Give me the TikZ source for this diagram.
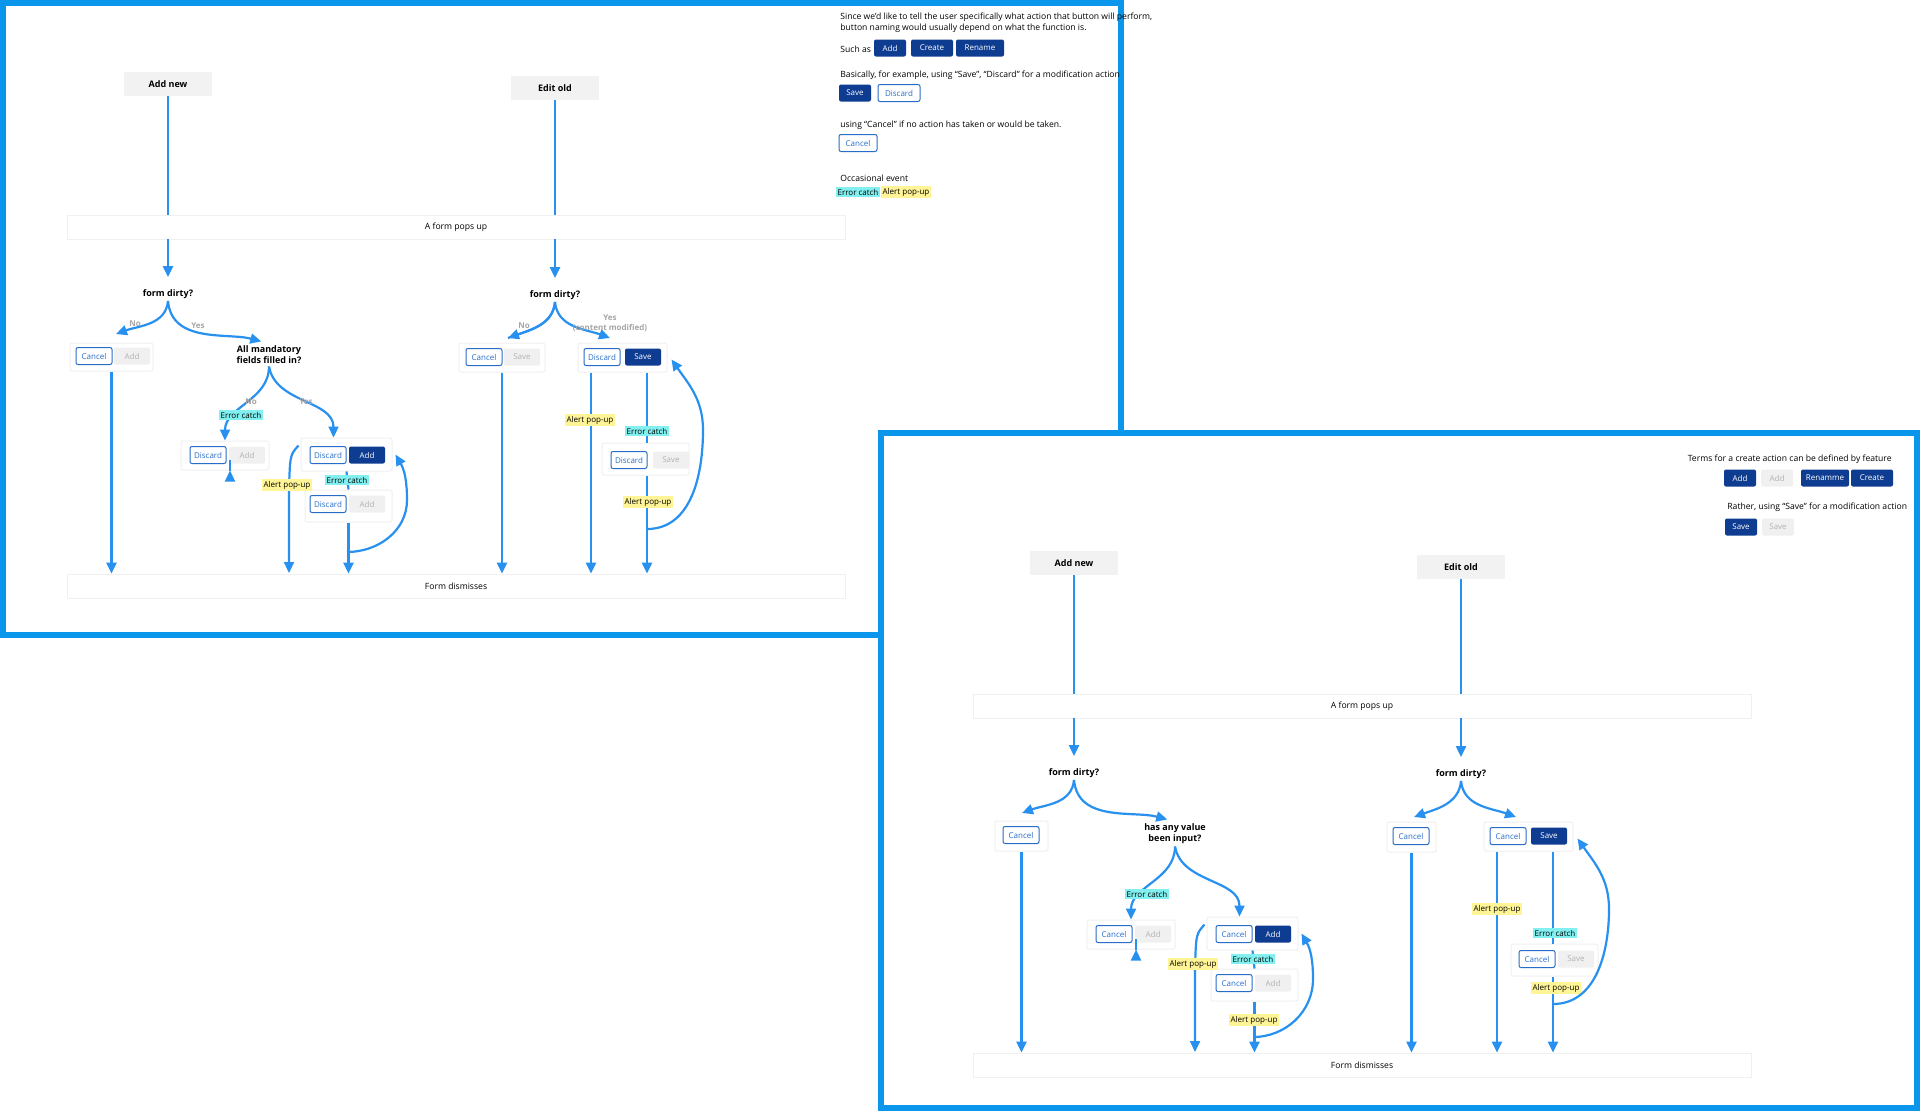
\documentclass[tikz,border=0pt]{standalone}
\usepackage{fontspec}
\setmainfont{Open Sans}
\usetikzlibrary{arrows.meta,calc}
\definecolor{framec}{RGB}{10,150,235}
\definecolor{flowc}{RGB}{40,145,240}
\definecolor{darkb}{RGB}{14,60,145}
\definecolor{lineb}{RGB}{40,110,200}
\definecolor{errc}{RGB}{130,240,240}
\definecolor{alertc}{RGB}{255,245,150}
\tikzset{
  txt/.style={font=\fontsize{4.3}{5.6}\selectfont, inner sep=0pt},
  btn/.style={rounded corners=1pt, minimum width=18pt, minimum height=8.5pt, inner sep=0pt, font=\fontsize{4}{5}\selectfont},
  pri/.style={btn, fill=darkb, text=white},
  sec/.style={btn, draw=lineb, fill=white, text=lineb, line width=0.5pt},
  off/.style={btn, fill=gray!12, text=gray!60},
  grp/.style={draw=gray!12, fill=white, rounded corners=1pt, line width=0.5pt},
  band/.style={draw=gray!12, fill=white, minimum width=389pt, minimum height=12pt, font=\fontsize{4.3}{5}\selectfont},
  start/.style={fill=gray!10, minimum width=44pt, minimum height=12pt, font=\bfseries\fontsize{4.5}{5}\selectfont},
  ask/.style={font=\bfseries\fontsize{4.5}{5.6}\selectfont, align=center, inner sep=1pt},
  yn/.style={font=\bfseries\fontsize{4}{5}\selectfont, text=gray!70, align=center, inner sep=0pt},
  tagE/.style={fill=errc, inner sep=0.8pt, font=\fontsize{4}{5}\selectfont},
  tagA/.style={fill=alertc, inner sep=0.8pt, font=\fontsize{4}{5}\selectfont},
  flow/.style={draw=flowc, line width=1.1pt, -{Triangle[width=5pt,length=5.5pt]}},
  link/.style={draw=flowc, line width=1.1pt},
  panel/.style={draw=framec, line width=3pt, fill=white}
}
\begin{document}
\begin{tikzpicture}[x=0.5pt,y=-0.5pt]
\useasboundingbox (0,0) rectangle (1920,1110);
% first panel
\draw[panel] (3,3) rectangle (1121,635);
\node[band] (pop) at (456,227) {A form pops up};
\node[band] (dis) at (456,586) {Form dismisses};
\node[start] (new) at (168,84) {Add new};
\node[start] (old) at (555,88) {Edit old};
\node[ask] (q1) at (168,294) {form dirty?};
\node[ask] (q2) at (269,355) {All mandatory\\fields filled in?};
\node[ask] (q3) at (555,295) {form dirty?};
% groups
\node[grp, minimum width=41.5pt, minimum height=14pt] (g1) at (111.5,357) {};
\node[sec] (c1) at (94,356) {Cancel};
\node[off] (a1) at (132,356) {Add};
\node[grp, minimum width=44pt, minimum height=14.5pt] (g2) at (225,455.5) {};
\node[sec] (d2) at (208,455) {Discard};
\node[off] (a2) at (247,455) {Add};
\node[grp, minimum width=45.5pt, minimum height=16.5pt] (g3) at (346.5,454.5) {};
\node[sec] (d3) at (328,455) {Discard};
\node[pri] (a3) at (367,455) {Add};
\node[grp, minimum width=43.5pt, minimum height=16pt] (g4) at (348.5,506) {};
\node[sec] (d4) at (328,504) {Discard};
\node[off] (a4) at (367,504) {Add};
\node[grp, minimum width=43pt, minimum height=14.5pt] (g5) at (502,357.5) {};
\node[sec] (c5) at (484,357) {Cancel};
\node[off] (s5) at (522,357) {Save};
\node[grp, minimum width=44.5pt, minimum height=14.5pt] (g6) at (622.5,357.5) {};
\node[sec] (d6) at (602,357) {Discard};
\node[pri] (s6) at (643,357) {Save};
\node[grp, minimum width=43.5pt, minimum height=16pt] (g7) at (645.5,459) {};
\node[sec] (d7) at (629,460) {Discard};
\node[off] (s7) at (671,460) {Save};
% lines
\draw[link] (new) -- (new |- pop.north);
\draw[flow, shorten >=5pt] (new |- pop.south) -- (q1.north);
\draw[link] (old) -- (old |- pop.north);
\draw[flow, shorten >=5pt] (old |- pop.south) -- (q3.north);
\coordinate (l1) at (116,334);
\draw[flow] (q1.south) to[out=-95,in=20] (l1);
\draw[flow, shorten >=4pt] (q1.south) to[out=-85,in=165] (q2.north);
\node[yn] at (135,324) {No};
\node[yn] at (198,326) {Yes};
\draw[flow] (q2.south) to[out=-90,in=90] (g2.north);
\draw[flow] (q2.south) to[out=-80,in=90] ($(g3.north)+(-13,0)$);
\node[yn] at (251,402) {No};
\node[yn] at (306,402) {Yes};
\node[tagE] at (241,415) {Error catch};
\draw[flow] (g1.south) -- (g1.south |- dis.north);
\draw[flow] ($(g2.south)+(5,0)$) -- ($(g2.south)+(5,0)$ |- dis.north);
\draw[flow] ($(g3.north west)+(-2,8)$) .. controls (290,455) .. (289,490) -- (289,573);
\node[tagA] at (287,485) {Alert pop-up};
\draw[link] (g3.south) -- (g4.north);
\node[tagE] at (347,480) {Error catch};
\draw[flow] (g4.south) -- (g4.south |- dis.north);
\coordinate (r1) at (347,552);
\draw[flow] (r1) to[out=0,in=-90] (407,500) to[out=90,in=-60] ($(g3.east)+(3,0)$);
\draw[link] (q3.south) to[out=-95,in=20] (508,338);
\draw[flow] (q3.south) to[out=-95,in=20] (508,338);
\draw[flow] (q3.south) to[out=-85,in=160] (610,338);
\node[yn] at (524,326) {No};
\node[yn] at (610,323) {Yes\\(content modified)};
\draw[flow] (g5.south) -- (g5.south |- dis.north);
\draw[flow] ($(d6 |- g6.south)+(-11,0)$) -- ($(d6 |- dis.north)+(-11,0)$);
\node[tagA] at (590,420) {Alert pop-up};
\draw[link] ($(s6 |- g6.south)+(4,0)$) -- ($(s6 |- g7.north)+(4,0)$);
\node[tagE] at (647,431) {Error catch};
\draw[flow] ($(g7.south)+(1.5,0)$) -- ($(g7.south |- dis.north)+(1.5,0)$);
\node[tagA] at (648,502) {Alert pop-up};
\coordinate (r2) at (647,529);
\draw[flow] (r2) to[out=0,in=-90] (703,430) to[out=90,in=-55] ($(g6.east)+(4,2)$);
% notes
\node[txt, anchor=west, align=left] at (840,23) {Since we'd like to tell the user specifically what action that button will perform,\\button naming would usually depend on what the function is.};
\node[txt, anchor=west] at (840,49) {Such as};
\node[pri, minimum width=16pt] (n1) at (890,48) {Add};
\node[pri, minimum width=21pt] (n2) at (932,48) {Create};
\node[pri, minimum width=24pt] (n3) at (980,48) {Rename};
\node[txt, anchor=west] at (840,75) {Basically, for example, using ``Save'', ``Discard'' for a modification action};
\node[pri, minimum width=16pt] (n4) at (855,93) {Save};
\node[sec, minimum width=21pt] (n5) at (899,93) {Discard};
\node[txt, anchor=west] at (840,125) {using ``Cancel'' if no action has taken or would be taken.};
\node[sec, minimum width=19pt] (n6) at (858,143) {Cancel};
\node[txt, anchor=west] at (840,178) {Occasional event};
\node[tagE] at (858,192) {Error catch};
\node[tagA] at (906,192) {Alert pop-up};
% second panel
\draw[panel] (881,433) rectangle (1917,1108);
\begin{scope}[shift={(906,479)}]
\node[band] (popb) at (456,227) {A form pops up};
\node[band] (disb) at (456,586) {Form dismisses};
\node[start] (newb) at (168,84) {Add new};
\node[start] (oldb) at (555,88) {Edit old};
\node[ask] (q1b) at (168,294) {form dirty?};
\node[ask] (q2b) at (269,355) {has any value\\been input?};
\node[ask] (q3b) at (555,295) {form dirty?};
\node[grp, minimum width=26.5pt, minimum height=15pt] (g1b) at (115.5,357) {};
\node[sec] (c1b) at (115,356) {Cancel};
\node[grp, minimum width=44pt, minimum height=14.5pt] (g2b) at (225,455.5) {};
\node[sec] (d2b) at (208,455) {Cancel};
\node[off] (a2b) at (247,455) {Add};
\node[grp, minimum width=45.5pt, minimum height=16.5pt] (g3b) at (346.5,454.5) {};
\node[sec] (d3b) at (328,455) {Cancel};
\node[pri] (a3b) at (367,455) {Add};
\node[grp, minimum width=43.5pt, minimum height=16pt] (g4b) at (348.5,506) {};
\node[sec] (d4b) at (328,504) {Cancel};
\node[off] (a4b) at (367,504) {Add};
\node[grp, minimum width=24.5pt, minimum height=15pt] (g5b) at (505.5,358) {};
\node[sec] (c5b) at (505,357) {Cancel};
\node[grp, minimum width=44.5pt, minimum height=14.5pt] (g6b) at (622.5,357.5) {};
\node[sec] (d6b) at (602,357) {Cancel};
\node[pri] (s6b) at (643,357) {Save};
\node[grp, minimum width=43.5pt, minimum height=16pt] (g7b) at (648.5,481) {};
\node[sec] (d7b) at (631,480) {Cancel};
\node[off] (s7b) at (670,480) {Save};
\draw[link] (newb) -- (newb |- popb.north);
\draw[flow, shorten >=5pt] (newb |- popb.south) -- (q1b.north);
\draw[link] (oldb) -- (oldb |- popb.north);
\draw[flow, shorten >=5pt] (oldb |- popb.south) -- (q3b.north);
\draw[flow] (q1b.south) to[out=-95,in=20] (116,334);
\draw[flow, shorten >=4pt] (q1b.south) to[out=-85,in=165] (q2b.north);
\draw[flow] (q2b.south) to[out=-90,in=90] (g2b.north);
\draw[flow] (q2b.south) to[out=-80,in=90] ($(g3b.north)+(-13,0)$);
\node[tagE] at (241,415) {Error catch};
\draw[flow] (g1b.south) -- (g1b.south |- disb.north);
\draw[flow] ($(g2b.south)+(5,0)$) -- ($(g2b.south)+(5,0)$ |- disb.north);
\draw[flow] ($(g3b.north west)+(-2,8)$) .. controls (290,455) .. (289,490) -- (289,573);
\node[tagA] at (287,485) {Alert pop-up};
\draw[link] (g3b.south) -- (g4b.north);
\node[tagE] at (347,480) {Error catch};
\draw[flow] (g4b.south) -- (g4b.south |- disb.north);
\node[tagA] at (348,541) {Alert pop-up};
\coordinate (r1b) at (347,558);
\draw[flow] (r1b) to[out=0,in=-90] (407,500) to[out=90,in=-60] ($(g3b.east)+(3,0)$);
\draw[flow] (q3b.south) to[out=-95,in=20] (508,338);
\draw[flow] (q3b.south) to[out=-85,in=160] (610,338);
\draw[flow] (g5b.south) -- (g5b.south |- disb.north);
\draw[flow] ($(d6b |- g6b.south)+(-11,0)$) -- ($(d6b |- disb.north)+(-11,0)$);
\node[tagA] at (591,430) {Alert pop-up};
\draw[link] ($(s6b |- g6b.south)+(4,0)$) -- ($(s6b |- g7b.north)+(4,0)$);
\node[tagE] at (649,454) {Error catch};
\draw[flow] ($(g7b.south)+(-1.5,0)$) -- ($(g7b.south |- disb.north)+(-1.5,0)$);
\node[tagA] at (650,509) {Alert pop-up};
\coordinate (r2b) at (647,525);
\draw[flow] (r2b) to[out=0,in=-90] (703,430) to[out=90,in=-55] ($(g6b.east)+(4,2)$);
\end{scope}
\node[txt, anchor=east] at (1892,459) {Terms for a create action can be defined by feature};
\node[pri, minimum width=16pt] (m1) at (1740,478) {Add};
\node[off, minimum width=16pt] (m2) at (1777,478) {Add};
\node[pri, minimum width=24pt] (m3) at (1825,478) {Renamme};
\node[pri, minimum width=21pt] (m4) at (1872,478) {Create};
\node[txt, anchor=west] at (1727,507) {Rather, using ``Save'' for a modification action};
\node[pri, minimum width=16pt] (m5) at (1741,527) {Save};
\node[off, minimum width=16pt] (m6) at (1778,527) {Save};
\end{tikzpicture}
\end{document}
